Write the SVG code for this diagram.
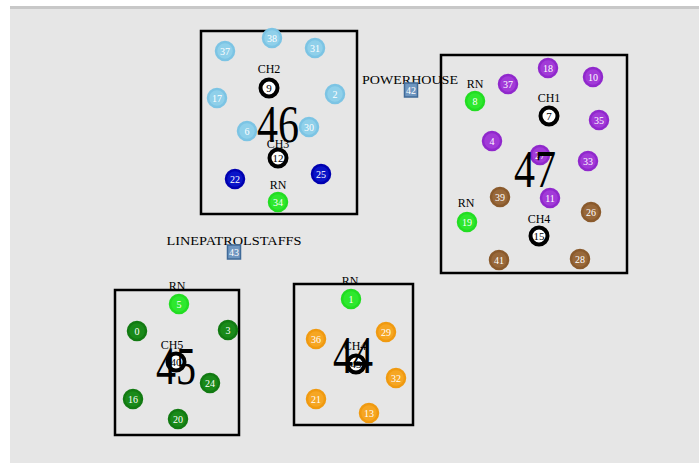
<svg xmlns="http://www.w3.org/2000/svg" width="699" height="463" viewBox="0 0 699 463">
<style>
.box{fill:none;stroke:#000;stroke-width:2.5}
.lbl{font-family:"Liberation Serif",serif;font-size:12px;fill:#000;text-anchor:middle}
.big{font-family:"Liberation Serif",serif;font-size:52px;fill:#000;text-anchor:middle}
.n circle{stroke-width:2.5}
.n text{font-family:"Liberation Serif",serif;font-size:10px;fill:#fff;text-anchor:middle}
.sky circle{fill:#8fd0ea;stroke:#7cc4e4}
.blu circle{fill:#0a14c8;stroke:#0000b0}
.lim circle{fill:#2ee82e;stroke:#22dd22}
.grn circle{fill:#1a8a1a;stroke:#127a12}
.org circle{fill:#f6a623;stroke:#f09a10}
.pur circle{fill:#a23ad8;stroke:#9028cc}
.brn circle{fill:#98683a;stroke:#8a5a2c}
.blk circle{fill:#fff;stroke:#000;stroke-width:4}
.blk text{fill:#000;font-size:11px}
.sq rect{fill:#6f96c0;stroke:#3f6a98;stroke-width:1.5}
.sq text{font-family:"Liberation Serif",serif;font-size:10px;fill:#fff;text-anchor:middle}
</style>
<rect x="0" y="0" width="699" height="463" fill="#fff"/>
<rect x="10" y="6" width="689" height="457" fill="#e6e6e6"/>
<rect x="10" y="6" width="689" height="3" fill="#c8c8c8"/>
<g id="connectors"></g>

<g id="cluster46">
<rect class="box" x="201" y="31" width="156" height="183"/>
<g class="n sky"><circle cx="272" cy="38" r="9"/><text x="272" y="41.5">38</text></g>
<g class="n sky"><circle cx="225" cy="51" r="9"/><text x="225" y="54.5">37</text></g>
<g class="n sky"><circle cx="315" cy="48" r="9"/><text x="315" y="51.5">31</text></g>
<g class="n sky"><circle cx="217" cy="98" r="9"/><text x="217" y="101.5">17</text></g>
<g class="n sky"><circle cx="335" cy="94" r="9"/><text x="335" y="97.5">2</text></g>
<g class="n sky"><circle cx="247" cy="131" r="9"/><text x="247" y="134.5">6</text></g>
<g class="n sky"><circle cx="309" cy="127" r="9"/><text x="309" y="130.5">30</text></g>
<text class="lbl" x="269" y="73">CH2</text>
<g class="n blk"><circle cx="269" cy="88" r="8.5"/><text x="269" y="92">9</text></g>
<text class="big" x="278" y="142" textLength="42" lengthAdjust="spacingAndGlyphs">46</text>
<text class="lbl" x="278" y="148">CH3</text>
<g class="n blk"><circle cx="278" cy="158" r="8.5"/><text x="278" y="162">12</text></g>
<g class="n blu"><circle cx="235" cy="179" r="9"/><text x="235" y="182.5">22</text></g>
<g class="n blu"><circle cx="321" cy="174" r="9"/><text x="321" y="177.5">25</text></g>
<text class="lbl" x="278" y="189">RN</text>
<g class="n lim"><circle cx="278" cy="202" r="9"/><text x="278" y="205.5">34</text></g>
</g>

<g id="cluster47">
<rect class="box" x="441" y="55" width="186" height="218"/>
<g class="n pur"><circle cx="548" cy="68" r="9"/><text x="548" y="71.5">18</text></g>
<g class="n pur"><circle cx="593" cy="77" r="9"/><text x="593" y="80.5">10</text></g>
<g class="n pur"><circle cx="508" cy="84" r="9"/><text x="508" y="87.5">37</text></g>
<g class="n pur"><circle cx="599" cy="120" r="9"/><text x="599" y="123.5">35</text></g>
<g class="n pur"><circle cx="492" cy="141" r="9"/><text x="492" y="144.5">4</text></g>
<g class="n pur"><circle cx="588" cy="161" r="9"/><text x="588" y="164.5">33</text></g>
<g class="n pur"><circle cx="550" cy="198" r="9"/><text x="550" y="201.5">11</text></g>
<text class="lbl" x="475" y="88">RN</text>
<g class="n lim"><circle cx="475" cy="101" r="9"/><text x="475" y="104.5">8</text></g>
<text class="lbl" x="549" y="102">CH1</text>
<g class="n blk"><circle cx="549" cy="116" r="8.5"/><text x="549" y="120">7</text></g>
<g class="n pur"><circle cx="540" cy="155" r="9"/><text x="540" y="158.5">27</text></g>
<text class="big" x="535" y="187" textLength="42" lengthAdjust="spacingAndGlyphs">47</text>
<g class="n brn"><circle cx="500" cy="197" r="9"/><text x="500" y="200.5">39</text></g>
<g class="n brn"><circle cx="591" cy="212" r="9"/><text x="591" y="215.5">26</text></g>
<text class="lbl" x="466" y="207">RN</text>
<g class="n lim"><circle cx="467" cy="222" r="9"/><text x="467" y="225.5">19</text></g>
<text class="lbl" x="539" y="223">CH4</text>
<g class="n blk"><circle cx="539" cy="236" r="8.5"/><text x="539" y="240">15</text></g>
<g class="n brn"><circle cx="499" cy="260" r="9"/><text x="499" y="263.5">41</text></g>
<g class="n brn"><circle cx="580" cy="259" r="9"/><text x="580" y="262.5">28</text></g>
</g>

<g id="cluster45">
<rect class="box" x="115" y="290" width="124" height="145"/>
<text class="lbl" x="177" y="290">RN</text>
<g class="n lim"><circle cx="179" cy="304" r="9"/><text x="179" y="307.5">5</text></g>
<g class="n grn"><circle cx="137" cy="331" r="9"/><text x="137" y="334.5">0</text></g>
<g class="n grn"><circle cx="228" cy="330" r="9"/><text x="228" y="333.5">3</text></g>
<text class="lbl" x="172" y="349">CH5</text>
<g class="n blk"><circle cx="176" cy="362" r="8.5"/><text x="176" y="366">40</text></g>
<text class="big" x="176" y="384" textLength="40" lengthAdjust="spacingAndGlyphs">45</text>
<g class="n grn"><circle cx="210" cy="383" r="9"/><text x="210" y="386.5">24</text></g>
<g class="n grn"><circle cx="133" cy="399" r="9"/><text x="133" y="402.5">16</text></g>
<g class="n grn"><circle cx="178" cy="419" r="9"/><text x="178" y="422.5">20</text></g>
</g>

<g id="cluster44">
<rect class="box" x="294" y="284" width="119" height="141"/>
<text class="lbl" x="350" y="285">RN</text>
<g class="n lim"><circle cx="351" cy="299" r="9"/><text x="351" y="302.5">1</text></g>
<g class="n org"><circle cx="316" cy="339" r="9"/><text x="316" y="342.5">36</text></g>
<g class="n org"><circle cx="386" cy="332" r="9"/><text x="386" y="335.5">29</text></g>
<text class="lbl" x="355" y="350">CH4</text>
<g class="n blk"><circle cx="356" cy="364" r="8.5"/><text x="356" y="368">43</text></g>
<text class="big" x="353" y="373" textLength="40" lengthAdjust="spacingAndGlyphs">44</text>
<g class="n org"><circle cx="396" cy="378" r="9"/><text x="396" y="381.5">32</text></g>
<g class="n org"><circle cx="316" cy="399" r="9"/><text x="316" y="402.5">21</text></g>
<g class="n org"><circle cx="369" cy="413" r="9"/><text x="369" y="416.5">13</text></g>
</g>

<g id="powerhouse">
<text class="lbl" x="410" y="84" textLength="96" lengthAdjust="spacingAndGlyphs">POWERHOUSE</text>
<g class="sq"><rect x="404.5" y="83" width="13" height="14"/><text x="411" y="93.5">42</text></g>
</g>

<g id="linepatrolstaffs">
<text class="lbl" x="234" y="245" textLength="135" lengthAdjust="spacingAndGlyphs">LINEPATROLSTAFFS</text>
<g class="sq"><rect x="227.5" y="245" width="13" height="14"/><text x="234" y="255.5">43</text></g>
</g>
</svg>
